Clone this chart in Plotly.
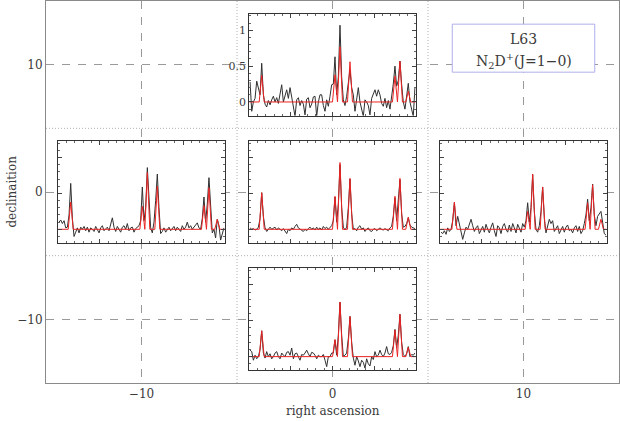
import plotly.graph_objects as go

# ---------------- data ----------------
# map cells (right ascension, declination offsets) of the five spectra
cells = ["center", "top", "left", "right", "bottom"]
cell_ra = [0, 0, -10, 10, 0]
cell_dec = [0, 10, 0, 0, -10]

# velocity channels of the spectra (km/s, arbitrary zero)
vel = [round(0.1 + 0.2 * i, 1) for i in range(100)]

spec_center = [
    0.02, 0.0, 0.01, -0.01, 0.0, 0.03, 0.15, 0.51, 0.18, 0.02,
    -0.03, 0.01, 0.03, 0.0, 0.02, 0.03, -0.01, 0.02, 0.0, -0.02,
    0.01, -0.03, -0.06, 0.0, -0.02, 0.02, 0.0, 0.04, 0.07, 0.02,
    0.0, -0.02, -0.03, 0.0, -0.02, 0.01, 0.03, 0.0, 0.02, -0.01,
    0.03, 0.0, 0.02, -0.01, 0.04, 0.01, 0.03, 0.0, 0.02, 0.05,
    0.12, 0.45, 0.1, 0.35, 0.9, 0.3, 0.03, -0.01, 0.03, 0.3,
    0.7, 0.22, 0.0, 0.01, -0.02, 0.03, 0.05, 0.0, 0.02, -0.03,
    0.0, 0.02, -0.02, -0.03, 0.0, 0.01, -0.02, 0.0, 0.02, 0.0,
    -0.01, 0.01, 0.0, -0.02, 0.02, 0.04, 0.18, 0.44, 0.12, 0.4,
    0.69, 0.22, 0.03, 0.04, 0.08, 0.16, 0.06, 0.03, 0.02, 0.01,
]
spec_top = [
    0.28, -0.13, 0.0, 0.05, 0.29, 0.2, 0.1, 0.54, 0.1, -0.03,
    -0.07, 0.02, -0.04, 0.03, 0.08, 0.0, 0.06, -0.02, 0.1, 0.24,
    0.0, 0.1, 0.17, 0.05, 0.2, 0.07, -0.08, -0.2, 0.03, 0.06,
    -0.05, 0.02, -0.03, -0.18, 0.04, 0.06, -0.08, -0.03, 0.07, 0.08,
    -0.2, 0.0, 0.1, 0.1, -0.05, -0.13, 0.03, -0.06, 0.08, 0.24,
    0.25, 0.63, 0.1, 0.35, 1.07, 0.35, 0.03, -0.05, 0.08, 0.25,
    0.45, 0.2, 0.1, -0.13, 0.08, 0.2, 0.0, -0.13, -0.2, 0.03,
    0.0, -0.05, -0.18, 0.05, 0.1, 0.17, 0.08, 0.17, 0.1, -0.02,
    -0.06, 0.05, -0.08, 0.02, -0.1, 0.05, 0.25, 0.5, 0.22, 0.3,
    0.57, 0.25, 0.0, -0.1, 0.05, 0.26, 0.0, -0.13, -0.2, 0.2,
]
spec_left = [
    0.1, 0.13, 0.08, 0.12, 0.02, 0.03, 0.2, 0.64, 0.15, -0.1,
    -0.04, 0.02, -0.05, 0.03, 0.0, 0.04, -0.02, 0.03, -0.04, 0.02,
    0.0, -0.03, 0.04, 0.0, -0.05, 0.02, 0.05, -0.02, 0.0, 0.03,
    -0.02, 0.06, 0.16, 0.03, -0.03, 0.04, 0.0, -0.04, 0.03, 0.05,
    0.0, 0.08, -0.02, 0.02, 0.03, -0.04, 0.01, 0.03, 0.05, 0.12,
    0.59, 0.12, 0.3, 0.86, 0.35, 0.02, -0.05, 0.1, 0.4, 0.77,
    0.3, -0.06, -0.03, 0.02, -0.04, 0.0, 0.03, -0.02, 0.01, 0.04,
    -0.02, 0.03, 0.0, -0.03, 0.05, 0.0, 0.03, 0.1, 0.02, 0.05,
    0.0, 0.03, 0.06, 0.09, 0.02, 0.0, 0.15, 0.45, 0.1, 0.35,
    0.72, 0.25, -0.05, 0.0, -0.12, 0.14, 0.05, -0.15, -0.05, 0.02,
]
spec_right = [
    -0.04, -0.06, -0.02, -0.07, 0.02, -0.03, 0.0, 0.12, 0.37, 0.05,
    0.18, 0.08, -0.02, -0.14, -0.05, 0.03, 0.0, 0.06, 0.14, 0.05,
    -0.03, 0.02, 0.05, -0.06, 0.0, 0.04, -0.04, 0.07, 0.0, -0.05,
    0.03, 0.09, -0.02, -0.1, 0.05, 0.02, -0.06, 0.04, 0.08, 0.0,
    -0.04, 0.06, -0.03, 0.08, 0.02, -0.05, 0.07, 0.0, -0.04, 0.08,
    0.03, 0.12, 0.37, 0.1, 0.3, 0.76, 0.25, 0.0, -0.04, 0.05,
    0.25, 0.59, 0.15, -0.05, 0.06, 0.14, 0.08, 0.12, -0.03, 0.02,
    0.05, -0.06, 0.0, 0.04, -0.04, 0.03, 0.06, -0.02, 0.0, -0.05,
    0.02, 0.05, -0.03, 0.04, -0.06, -0.02, 0.08, 0.2, 0.42, 0.12,
    0.3, 0.63, 0.2, 0.05, 0.18, 0.22, 0.25, 0.1, -0.06, -0.08,
]
spec_bottom = [
    0.09, 0.07, -0.05, 0.02, -0.03, 0.0, 0.1, 0.36, 0.05, -0.02,
    0.07, 0.0, 0.04, -0.03, 0.0, 0.05, 0.07, 0.0, -0.03, 0.05,
    0.02, 0.0, 0.06, 0.07, 0.02, 0.12, -0.03, 0.04, 0.05, 0.0,
    -0.05, 0.03, 0.02, 0.05, 0.09, 0.04, 0.0, 0.06, 0.05, 0.02,
    -0.03, 0.02, 0.0, 0.0, 0.03, -0.05, -0.14, 0.0, 0.0, 0.05,
    0.05, 0.23, 0.02, 0.3, 0.76, 0.3, 0.0, 0.02, 0.05, 0.25,
    0.56, 0.2, -0.02, -0.12, 0.0, -0.06, -0.14, -0.05, -0.08, -0.16,
    -0.03, -0.1, -0.13, 0.0, -0.04, 0.07, 0.0, 0.02, 0.09, 0.03,
    0.0, 0.05, 0.14, 0.04, 0.03, 0.06, 0.15, 0.38, 0.12, 0.3,
    0.59, 0.2, 0.03, 0.0, 0.04, 0.14, 0.0, 0.03, 0.02, 0.05,
]
spectra = [spec_center, spec_top, spec_left, spec_right, spec_bottom]

# hyperfine fit: component velocities and fitted peak intensities
fit_v_center = [1.5, 10.3, 10.9, 12.1, 17.5, 18.1, 19.1]
fit_v_top = [1.5, 10.3, 10.9, 12.1, 17.5, 18.1, 19.1]
fit_v_left = [1.5, 10.1, 10.7, 11.9, 17.5, 18.1, 19.1]
fit_v_right = [1.7, 10.5, 11.1, 12.3, 17.7, 18.3, 19.3]
fit_v_bottom = [1.5, 10.3, 10.9, 12.1, 17.5, 18.1, 19.1]
fit_a_center = [0.51, 0.46, 0.93, 0.71, 0.46, 0.71, 0.17]
fit_a_top = [0.37, 0.38, 0.77, 0.56, 0.36, 0.57, 0.15]
fit_a_left = [0.38, 0.32, 0.79, 0.60, 0.33, 0.58, 0.14]
fit_a_right = [0.38, 0.25, 0.77, 0.59, 0.37, 0.62, 0.14]
fit_a_bottom = [0.36, 0.24, 0.76, 0.56, 0.37, 0.59, 0.13]
fit_v = [fit_v_center, fit_v_top, fit_v_left, fit_v_right, fit_v_bottom]
fit_a = [fit_a_center, fit_a_top, fit_a_left, fit_a_right, fit_a_bottom]

main_ticks = [-10, 0, 10]
inset_yticks = [0, 0.5, 1]
inset_yticktext = ["0", "0.5", "1"]

# ---------------- styling ----------------
FONT = "DejaVu Serif"
TXT = "#3a3a3a"
HW_FIT = 0.3
INSET_HALF_W = 4.36
INSET_HALF_H = 4.0

fig = go.Figure()

# main map axes: dotted cell separators
for v in (-5, 5):
    fig.add_shape(type="line", xref="x", yref="y", x0=v, x1=v, y0=-15, y1=15,
                  line=dict(color="#b0b0b0", width=1, dash="1px,2px"), layer="below")
    fig.add_shape(type="line", xref="x", yref="y", x0=-15, x1=15, y0=v, y1=v,
                  line=dict(color="#b0b0b0", width=1, dash="1px,2px"), layer="below")

fig.add_trace(go.Scatter(x=[-15, 15], y=[-15, 15], mode="markers",
                         marker=dict(opacity=0), hoverinfo="skip", showlegend=False))

layout_axes = {}
for k, name in enumerate(cells):
    n = k + 2
    xa = f"x{n}"
    ya = f"y{n}"
    cx, cy = cell_ra[k], cell_dec[k]
    xd = [(cx - INSET_HALF_W + 15) / 30, (cx + INSET_HALF_W + 15) / 30]
    yd = [(cy - INSET_HALF_H + 15) / 30, (cy + INSET_HALF_H + 15) / 30]
    fig.add_trace(go.Scatter(x=vel, y=spectra[k], mode="lines", xaxis=xa, yaxis=ya,
                             line=dict(color="#303030", width=1), showlegend=False))
    rx = [0.0]
    ry = [0.0]
    for p, a in zip(fit_v[k], fit_a[k]):
        rx += [p - HW_FIT, p, p + HW_FIT]
        ry += [0.0, a, 0.0]
    rx.append(20.0)
    ry.append(0.0)
    fig.add_trace(go.Scatter(x=rx, y=ry, mode="lines", xaxis=xa, yaxis=ya,
                             line=dict(color="rgb(235,35,35)", width=1), showlegend=False))
    layout_axes[f"xaxis{n}"] = dict(
        domain=xd, anchor=ya, range=[0, 20], showgrid=False, zeroline=False,
        showline=True, linecolor="#333", linewidth=1, mirror="ticks",
        ticks="inside", ticklen=4, tickcolor="#444", dtick=5, tick0=0,
        showticklabels=False,
        minor=dict(ticks="inside", ticklen=2, dtick=1, tickcolor="#666"),
    )
    layout_axes[f"yaxis{n}"] = dict(
        domain=yd, anchor=xa, range=[-0.19, 1.23], showgrid=False, zeroline=False,
        showline=True, linecolor="#333", linewidth=1, mirror="ticks",
        ticks="inside", ticklen=4, tickcolor="#444",
        tickvals=inset_yticks, ticktext=inset_yticktext,
        showticklabels=(name == "top"),
        tickfont=dict(family=FONT, size=11, color=TXT),
        minor=dict(ticks="inside", ticklen=2, dtick=0.1, tickcolor="#666"),
    )

# label box
fig.add_shape(type="rect", xref="x", yref="y", x0=6.27, x1=13.73, y0=9.41, y1=13.18,
              line=dict(color="rgb(175,175,235)", width=1), fillcolor="white", layer="above")
fig.add_annotation(x=10.0, y=12.0, xref="x", yref="y", text="L63", showarrow=False,
                   font=dict(family=FONT, size=14, color=TXT))
fig.add_annotation(x=10.0, y=10.3, xref="x", yref="y",
                   text="N<sub>2</sub>D<sup>+</sup>(J=1\u22120)", showarrow=False,
                   font=dict(family=FONT, size=14, color=TXT))

# axis titles
fig.add_annotation(x=0.5, y=-0.072, xref="paper", yref="paper", text="right ascension",
                   showarrow=False, font=dict(family=FONT, size=12, color=TXT),
                   xanchor="center", yanchor="middle")
fig.add_annotation(x=-0.06, y=0.5, xref="paper", yref="paper", text="declinaition",
                   showarrow=False, textangle=-90, font=dict(family=FONT, size=12, color=TXT),
                   xanchor="center", yanchor="middle")

fig.update_layout(
    width=620, height=421,
    margin=dict(l=46, r=1, t=1, b=38),
    paper_bgcolor="white", plot_bgcolor="white",
    showlegend=False,
    xaxis=dict(range=[-15, 15], tickvals=main_ticks, showgrid=True, gridcolor="#9a9a9a",
               griddash="8px,8px", gridwidth=1, zeroline=False, showline=True,
               linecolor="#8a8a8a", linewidth=1, mirror=True, ticks="",
               tickfont=dict(family=FONT, size=12, color=TXT)),
    yaxis=dict(range=[-15, 15], tickvals=main_ticks, showgrid=True, gridcolor="#9a9a9a",
               griddash="8px,8px", gridwidth=1, zeroline=False, showline=True,
               linecolor="#8a8a8a", linewidth=1, mirror=True, ticks="",
               tickfont=dict(family=FONT, size=12, color=TXT)),
    **layout_axes,
)

fig.write_html(
    "out.html",
    config={"displayModeBar": False},
    post_script="document.body.style.margin='0';document.body.style.overflow='hidden';",
)
